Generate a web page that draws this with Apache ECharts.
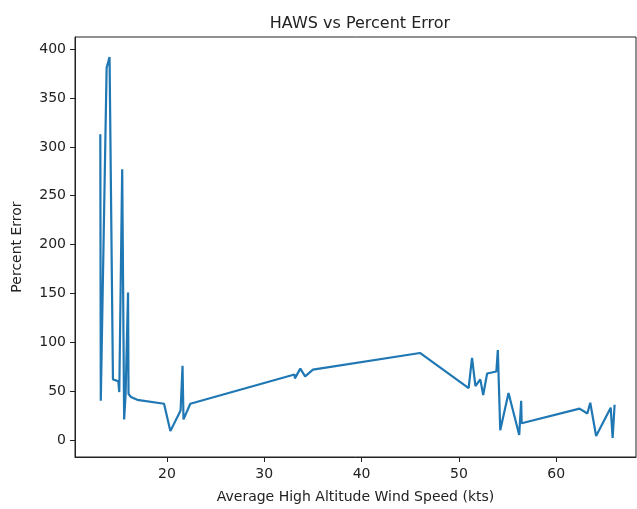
<!DOCTYPE html>
<html>
<head>
    <meta charset="utf-8">
    <title>HAWS vs Percent Error</title>
    <script src="https://cdn.jsdelivr.net/npm/echarts@6/dist/echarts.min.js"></script>
</head>
<body style="margin:0">
    <div id="main" style="width:637px;height:509px;"></div>
    <script>
        // data
        var windSpeed = [13.15, 13.2, 13.8, 14.1, 14.45, 15.0, 15.1, 15.4, 15.6, 15.75, 16.0, 16.05, 16.3, 16.95,
            19.7, 20.35, 21.4, 21.6, 21.7, 22.4, 33.1, 33.15, 33.7, 34.2, 35.0, 46.0, 51.0, 51.35, 51.7,
            52.2, 52.5, 52.9, 53.85, 54.0, 54.25, 55.1, 56.2, 56.4, 56.45, 62.4, 63.2, 63.5, 64.1, 65.6, 65.8, 66.0];
        var percentError = [313, 40, 381, 392, 62, 60, 49, 277, 21, 47, 151, 47, 44, 41,
            37, 9, 30, 76, 21, 37, 67, 63, 73, 65, 72, 89, 53, 84, 55,
            62, 46, 68, 70, 92, 10, 48, 5, 40, 17, 32, 27, 38, 4, 33, 2, 36];
        var xTicks = [20, 30, 40, 50, 60];
        var yTicks = [0, 50, 100, 150, 200, 250, 300, 350, 400];

        var points = windSpeed.map(function (x, i) { return [x, percentError[i]]; });

        var myChart = echarts.init(document.getElementById('main'));
        var font = 'DejaVu Sans';

        var option = {
            animation: false,
            backgroundColor: '#fff',
            title: {
                text: 'HAWS vs Percent Error',
                left: 355,
                top: 11,
                textAlign: 'center',
                textStyle: { fontFamily: font, fontSize: 16, fontWeight: 'normal', color: '#222' }
            },
            grid: {
                left: 75, right: 1, top: 37, bottom: 49,
                show: true, borderColor: '#222', borderWidth: 1
            },
            xAxis: {
                type: 'value',
                min: 10.55, max: 68.2,
                name: 'Average High Altitude Wind Speed (kts)',
                nameLocation: 'middle',
                nameGap: 33,
                nameTextStyle: { fontFamily: font, fontSize: 14, color: '#222' },
                splitLine: { show: false },
                axisLine: { onZero: false, lineStyle: { color: '#222' } },
                axisTick: { show: true, inside: false, length: 5, customValues: xTicks, lineStyle: { color: '#222' } },
                axisLabel: { customValues: xTicks, margin: 10, fontFamily: font, fontSize: 14, color: '#222' }
            },
            yAxis: {
                type: 'value',
                min: -17.5, max: 412.5,
                name: 'Percent Error',
                nameLocation: 'middle',
                nameGap: 51,
                nameTextStyle: { fontFamily: font, fontSize: 14, color: '#222' },
                splitLine: { show: false },
                axisLine: { show: true, onZero: false, lineStyle: { color: '#222' } },
                axisTick: { show: true, inside: false, length: 5, customValues: yTicks, lineStyle: { color: '#222' } },
                axisLabel: { customValues: yTicks, margin: 9, fontFamily: font, fontSize: 14, color: '#222' }
            },
            series: [{
                type: 'line',
                data: points,
                showSymbol: false,
                symbol: 'none',
                lineStyle: { color: '#1f77b4', width: 2.2 }
            }]
        };

        myChart.setOption(option);
    </script>
</body>
</html>
